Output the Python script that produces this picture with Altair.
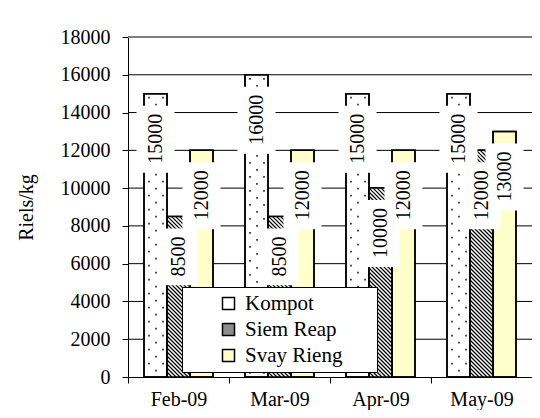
import json
import altair as alt
import pandas as pd

# ---- data ----
months = ["Feb-09", "Mar-09", "Apr-09", "May-09"]
series = ["Kompot", "Siem Reap", "Svay Rieng"]
kompot = [15000, 16000, 15000, 15000]
siem_reap = [8500, 8500, 10000, 12000]
svay_rieng = [12000, 12000, 12000, 13000]
y_ticks = [0, 2000, 4000, 6000, 8000, 10000, 12000, 14000, 16000, 18000]
y_title = "Riels/kg"

rows = []
for i, m in enumerate(months):
    for k, (s, vals) in enumerate(zip(series, [kompot, siem_reap, svay_rieng])):
        rows.append({"month": m, "series": s, "value": vals[i], "mi": i, "si": k})
df = pd.DataFrame(rows)
ticks_df = pd.DataFrame({"tick": y_ticks})

# ---- layout constants ----
W, H = 404, 340
YMAX = y_ticks[-1]
PXU = W / 4.0          # pixels per x unit (one month band)
BAR_PX = 23            # bar width in px
BW = BAR_PX / PXU
DPP = YMAX / H         # data units per px on y
FONT = "Times New Roman, Liberation Serif, serif"
LAB_T = 20             # px from bar top to label end
DIGIT = 10.2           # px per digit at font 20

xscale = alt.Scale(domain=[0, 4], nice=False, zero=False)
yscale = alt.Scale(domain=[0, YMAX], nice=False)

base = alt.Chart(df).transform_calculate(
    x0=f"datum.mi + 0.5 + (datum.si - 1.5) * {BW}",
).transform_calculate(
    x1=f"datum.x0 + {BW}",
    xc=f"datum.x0 + {BW / 2}",
    hpx=f"datum.value / {DPP}",
    zero="0",
)

month_js = json.dumps(months)
x_axis = alt.Axis(
    values=[0, 0.5, 1, 1.5, 2, 2.5, 3, 3.5, 4],
    labelExpr=f"datum.value % 1 === 0 ? '' : {month_js}[floor(datum.value)]",
    tickOpacity={"condition": {"test": "datum.value % 1 === 0", "value": 1}, "value": 0},
    labelOverlap=False,
    labelFlush=False,
    grid=False,
    title=None,
    tickSize=6,
    labelPadding=6,
)
y_axis = alt.Axis(
    values=y_ticks,
    grid=False,
    tickSize=6,
    labelPadding=12,
    labelOverlap=False,
    title=y_title,
    titlePadding=24,
    format="d",
)


def X(field):
    return alt.X(field, scale=xscale, axis=x_axis)


def Y(field):
    return alt.Y(field, scale=yscale, axis=y_axis)


grid = alt.Chart(ticks_df).transform_filter(
    f"datum.tick > 0 && datum.tick < {YMAX}"
).mark_rule(color="black", strokeWidth=1).encode(y=Y("tick:Q"))

top_rule = alt.Chart(ticks_df).transform_filter(
    f"datum.tick === {YMAX}"
).mark_rule(color="#808080", strokeWidth=2).encode(y=Y("tick:Q"))

# Siem Reap legend swatch is grey (hatch look); its bars get a white base below the hatch
bars = base.mark_rect(stroke="black", strokeWidth=1.5).encode(
    x=X("x0:Q"), x2="x1:Q",
    y=Y("value:Q"), y2="zero:Q",
    fill=alt.Fill(
        "series:N",
        scale=alt.Scale(domain=series, range=["white", "#8c8c8c", "#FFFFCC"]),
        legend=alt.Legend(
            orient="none", legendX=54, legendY=250,
            title="MMM", titleOrient="right", titleColor="white",
            titleFontSize=10, titlePadding=0, titleFont=FONT,
            fillColor="white", strokeColor="black", padding=6,
            labelFont=FONT, labelFontSize=21, labelColor="black",
            symbolType="square", symbolSize=144, symbolStrokeColor="black",
            symbolStrokeWidth=1.5, rowPadding=4, labelOffset=6,
            symbolOffset=30,
        ),
    ),
)

white_base = base.transform_filter(f"datum.series === '{series[1]}'").mark_rect(color="white").encode(
    x=X("x0:Q"), x2="x1:Q",
    y=Y("value:Q"), y2="zero:Q",
)

hatch = base.transform_filter(f"datum.series === '{series[1]}'").transform_calculate(
    useq=f"sequence(-datum.hpx + 1, {BAR_PX}, 4)"
).transform_flatten(["useq"], as_=["u"]).transform_calculate(
    Xa="max(0, datum.u)",
    Xb=f"min({BAR_PX}, datum.hpx + datum.u)",
).transform_calculate(
    xa=f"datum.x0 + datum.Xa / {PXU}",
    xb=f"datum.x0 + datum.Xb / {PXU}",
    ya=f"datum.value - (datum.Xa - datum.u) * {DPP}",
    yb=f"datum.value - (datum.Xb - datum.u) * {DPP}",
).mark_rule(color="black", strokeWidth=1.2).encode(
    x=X("xa:Q"), x2="xb:Q",
    y=Y("ya:Q"), y2="yb:Q",
)

dots = base.transform_filter(f"datum.series === '{series[0]}'").transform_calculate(
    rseq="sequence(0, ceil(datum.hpx / 7))"
).transform_flatten(["rseq"], as_=["r"]).transform_calculate(
    cseq="sequence(0, 2)"
).transform_flatten(["cseq"], as_=["c"]).transform_calculate(
    XX="5 + (datum.r % 2) * 7 + datum.c * 14",
    YY="4 + datum.r * 7",
).transform_filter(
    f"datum.XX <= {BAR_PX - 3} && datum.YY <= datum.hpx - 3"
).transform_calculate(
    xd=f"datum.x0 + datum.XX / {PXU}",
    yd=f"datum.value - datum.YY * {DPP}",
).mark_square(size=3, color="#333333", opacity=1).encode(
    x=X("xd:Q"), y=Y("yd:Q"),
)

outline = base.mark_rect(fillOpacity=0, stroke="black", strokeWidth=1.5).encode(
    x=X("x0:Q"), x2="x1:Q",
    y=Y("value:Q"), y2="zero:Q",
)

lab = base.transform_calculate(
    L=f"length(toString(datum.value)) * {DIGIT}",
).transform_calculate(
    bx0=f"datum.xc - {19 / PXU}",
    bx1=f"datum.xc + {19 / PXU}",
    by0=f"datum.value - {(LAB_T - 8) * DPP}",
    by1=f"datum.value - ({LAB_T + 8} + datum.L) * {DPP}",
    ty=f"datum.value - {LAB_T * DPP}",
)

boxes = lab.mark_rect(color="white").encode(
    x=X("bx0:Q"), x2="bx1:Q",
    y=Y("by0:Q"), y2="by1:Q",
)
texts = lab.mark_text(angle=270, align="right", baseline="middle", font=FONT, fontSize=20, color="black").encode(
    x=X("xc:Q"),
    y=Y("ty:Q"),
    text=alt.Text("value:Q", format="d"),
)

chart = alt.layer(grid, top_rule, bars, white_base, hatch, dots, outline, boxes, texts).properties(
    width=W, height=H,
    autosize=alt.AutoSizeParams(type="none"),
    padding={"left": 120, "top": 29, "right": 0, "bottom": 33},
).configure(font=FONT).configure_view(strokeWidth=0).configure_axis(
    domainColor="black", tickColor="black", labelColor="black",
    labelFont=FONT, labelFontSize=20, titleFont=FONT, titleFontSize=20,
    titleFontWeight="normal", titleColor="black", domainWidth=1, tickWidth=1,
    labelFontWeight="normal",
).configure_legend(labelFont=FONT, titleFont=FONT)

chart.save("out.html", embed_options={"renderer": "svg", "actions": False})
